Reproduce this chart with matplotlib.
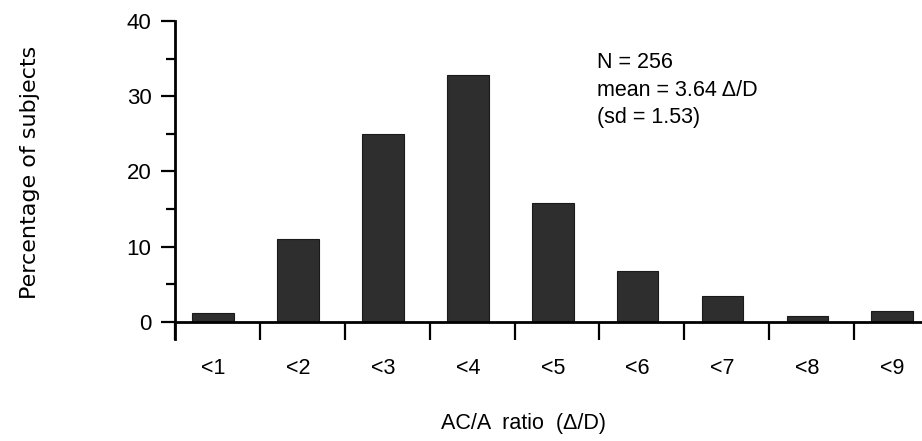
import matplotlib.pyplot as plt
import numpy as np

categories = ['<1', '<2', '<3', '<4', '<5', '<6', '<7', '<8', '<9']
percent = [1.2, 11.0, 25.0, 32.8, 15.8, 6.8, 3.5, 0.8, 1.5]
y_ticks = [0, 10, 20, 30, 40]
stats_lines = ['N = 256', 'mean = 3.64 \u0394/D', '(sd = 1.53)']

plt.rcParams['font.family'] = ['Liberation Sans', 'DejaVu Sans']

fig = plt.figure(figsize=(9.22, 4.41), dpi=100)
ax = fig.add_axes([175 / 922, 1 - 338.5 / 441, 1 - 175 / 922, (338.5 - 21) / 441])

x = np.arange(len(categories))
ax.bar(x, percent, width=0.49, color='#2e2e2e', edgecolor='#1a1a1a', linewidth=0.8)

ax.set_xlim(-0.45, 8.35)
ax.set_ylim(-2.2, 40)

# spines
for s in ['top', 'right']:
    ax.spines[s].set_visible(False)
ax.spines['bottom'].set_position(('data', 0))
ax.spines['bottom'].set_linewidth(2)
ax.spines['left'].set_linewidth(2)

# x ticks: marks at group boundaries, labels at bar centres
ax.set_xticks(x - 0.45)
ax.set_xticklabels([])
ax.tick_params(axis='x', which='major', direction='out', length=13, width=1.6)
ax.set_xticks(x, minor=True)
ax.set_xticklabels(categories, minor=True)
ax.tick_params(axis='x', which='minor', length=0, pad=26, labelsize=15.5)

# y ticks
ax.set_yticks(y_ticks)
ax.set_yticklabels([str(v) for v in y_ticks])
ax.set_yticks(np.arange(5, 40, 10), minor=True)
ax.tick_params(axis='y', which='major', direction='out', length=10, width=1.6, pad=7,
               labelsize=16)
ax.tick_params(axis='y', which='minor', direction='out', length=6.5, width=1.6)

fig.text(30 / 922, 1 - 172 / 441, 'Percentage of subjects', rotation=90,
         ha='center', va='center', fontsize=16, family='DejaVu Sans')
fig.text(523 / 922, 1 - 424 / 441, 'AC/A  ratio  (\u0394/D)', ha='center', va='center',
         fontsize=15.5)

for i, line in enumerate(stats_lines):
    fig.text(597 / 922, 1 - (62 + 28 * i) / 441, line, ha='left', va='center', fontsize=15.5)

fig.savefig('out.png', dpi=100)
